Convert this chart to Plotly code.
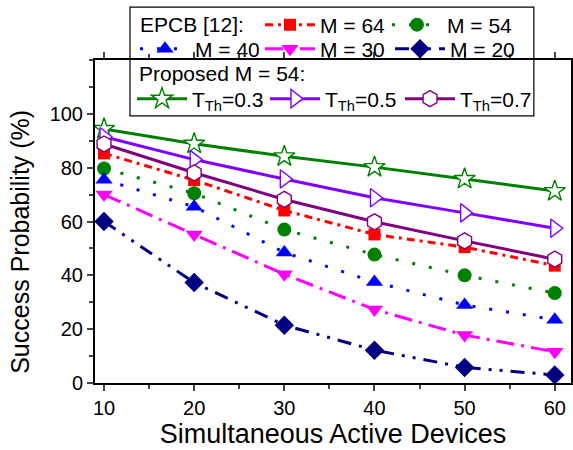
import plotly.graph_objects as go

devices = [10, 20, 30, 40, 50, 60]

epcb_m64 = [85.3, 75.4, 64.1, 55.2, 50.5, 43.6]
epcb_m54 = [79.7, 70.5, 57.0, 47.7, 40.0, 33.4]
epcb_m40 = [75.5, 65.5, 48.5, 37.5, 29.0, 23.5]
epcb_m30 = [70.0, 55.2, 40.4, 27.3, 17.8, 11.6]
epcb_m20 = [60.0, 37.3, 21.5, 12.2, 5.8, 3.0]

prop_t03 = [94.4, 88.9, 84.2, 80.2, 75.8, 71.3]
prop_t05 = [91.5, 83.0, 75.8, 68.8, 63.2, 57.5]
prop_t07 = [88.8, 78.1, 68.2, 59.9, 52.8, 46.0]

FONT = "Arial, Liberation Sans, sans-serif"
lfont = dict(family=FONT, size=21, color="black")

fig = go.Figure()

# (values, name, colour, dash, symbol, size, open-marker, legend x, legend y)
series = [
    (epcb_m64, "M = 64", "#FF0000", "8px,5px,3px,5px", "square", 12, False, 0.3466, 1.1084),
    (epcb_m54, "M = 54", "#008000", "3px,14px", "circle", 14, False, 0.6134, 1.1084),
    (epcb_m40, "M = 40", "#0000FF", "3px,14px", "triangle-up", 15, False, 0.0840, 1.0341),
    (epcb_m30, "M = 30", "#FF00FF", "18px,7px,3px,7px", "triangle-down", 15, False, 0.3466, 1.0341),
    (epcb_m20, "M = 20", "#000080", "14px,8px,3px,8px,3px,8px", "diamond", 15, False, 0.6197, 1.0341),
    (prop_t03, "T<sub>Th</sub>=0.3", "#008000", "solid", "star", 16, True, 0.0777, 0.8793),
    (prop_t05, "T<sub>Th</sub>=0.5", "#8000FF", "solid", "triangle-right", 16, True, 0.3571, 0.8793),
    (prop_t07, "T<sub>Th</sub>=0.7", "#800080", "solid", "hexagon", 16, True, 0.6408, 0.8793),
]

legends = {}
for i, (vals, name, color, dash, sym, size, is_open, lx, ly) in enumerate(series):
    key = "legend" if i == 0 else f"legend{i + 1}"
    fig.add_trace(go.Scatter(
        x=devices, y=vals, name=name, mode="lines+markers", legend=key,
        line=dict(color=color, width=3, dash=dash),
        marker=dict(symbol=sym, size=size,
                    color="white" if is_open else color,
                    line=dict(color=color, width=1.4 if is_open else 0)),
    ))
    legends[key] = dict(x=lx, y=ly, xanchor="left", yanchor="middle",
                        bgcolor="rgba(0,0,0,0)", borderwidth=0, font=lfont,
                        itemwidth=50)

fig.update_layout(
    width=573, height=450,
    margin=dict(l=95, r=2, t=60, b=67, autoexpand=False),
    paper_bgcolor="white", plot_bgcolor="white",
    font=dict(family=FONT, size=20, color="black"),
    showlegend=True,
    **legends,
    xaxis=dict(range=[9, 61.8], tickvals=devices, ticks="outside", ticklen=6, tickwidth=2,
               showline=True, linewidth=2, linecolor="black", mirror="ticks",
               showgrid=False, zeroline=False, tickfont=dict(family=FONT, size=20),
               minor=dict(dtick=5, tick0=0, ticks="outside", ticklen=4, tickwidth=2, showgrid=False),
               title=dict(text="Simultaneous Active Devices", font=dict(family=FONT, size=27), standoff=5)),
    yaxis=dict(range=[0, 120], tickvals=[0, 20, 40, 60, 80, 100], ticks="outside", ticklen=6, tickwidth=2,
               showline=True, linewidth=2, linecolor="black", mirror="ticks",
               showgrid=False, zeroline=False, tickfont=dict(family=FONT, size=20),
               minor=dict(dtick=10, tick0=0, ticks="outside", ticklen=4, tickwidth=2, showgrid=False)),
    annotations=[
        dict(text="EPCB [12]:", xref="paper", yref="paper", x=0.0903, y=1.1084,
             xanchor="left", yanchor="middle", showarrow=False, font=lfont),
        dict(text="Proposed M = 54:", xref="paper", yref="paper", x=0.0882, y=0.9567,
             xanchor="left", yanchor="middle", showarrow=False, font=lfont),
        dict(text="Success Probability (%)", xref="paper", yref="paper", x=-0.158, y=0.4365,
             xanchor="center", yanchor="middle", textangle=-90, showarrow=False,
             font=dict(family=FONT, size=25, color="black")),
    ],
    shapes=[dict(type="rect", xref="paper", yref="paper", x0=0.0735, x1=0.922, y0=0.827, y1=1.164,
                 line=dict(color="black", width=1.2), fillcolor="rgba(0,0,0,0)")],
)

fig.write_html("out.html", config={"displayModeBar": False},
               post_script="document.body.style.margin='0';")
